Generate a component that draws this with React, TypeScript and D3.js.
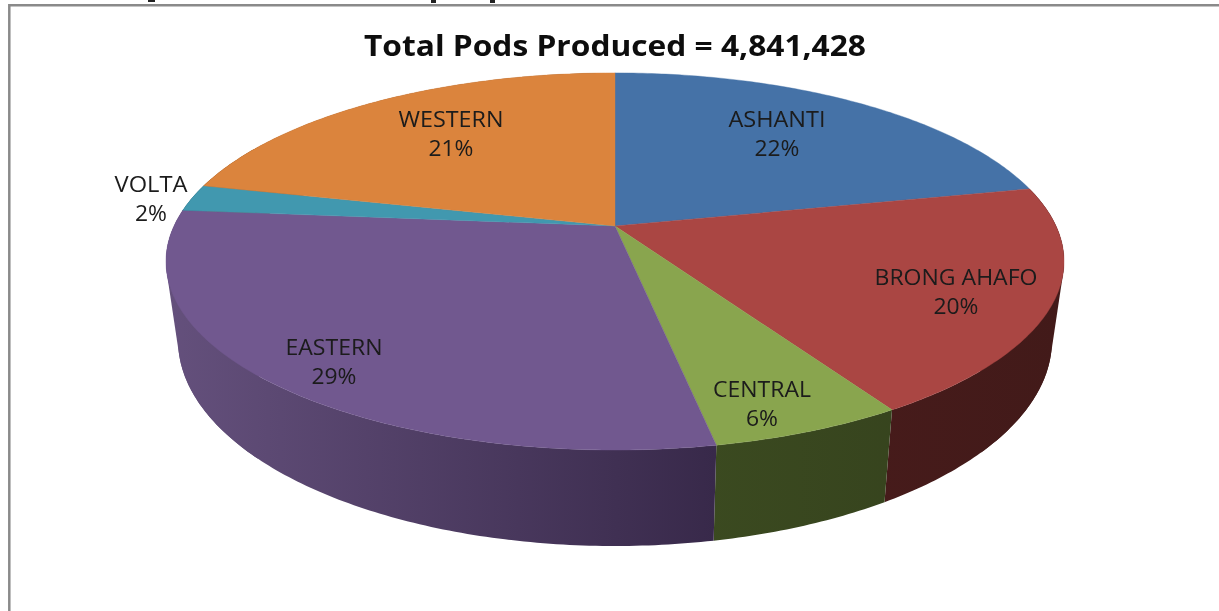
import React from "react";
import * as d3 from "d3";

const regions = ["ASHANTI", "BRONG AHAFO", "CENTRAL", "EASTERN", "VOLTA", "WESTERN"];
const shares = [21.6, 19.55, 5.85, 29.4, 2.3, 21.3];
const percentLabels = ["22%", "20%", "6%", "29%", "2%", "21%"];
const topColors = ["#4572a7", "#aa4643", "#89a54e", "#71588f", "#4198af", "#db843d"];
const sideLeft = ["#2a4464", "#4a1c1c", "#3b4a20", "#64507c", "#276070", "#8a5020"];
const sideRight = ["#223a55", "#421a19", "#333f1c", "#38294a", "#276070", "#8a5020"];
const labelX = [777, 956, 762, 334, 151, 451];
const labelY = [119, 277, 389, 347, 184, 119];
const labelWidths = [97, 163, 98, 97, 73, 105];
const percentWidths = [45, 45, 32, 45, 32, 45];
const titleText = "Total Pods Produced = 4,841,428";

const W = 1219, H = 611;
const cx = 615, cy = 226;
const a = 441, k = 181.9, p = 0.188;
// outline of the top face and of the lower rim
const topEllipse = { x: 615, y: 261, rx: 449, ry: 189 };
const rimEllipse = { x: 615, y: 340, rx: 437, ry: 206 };

function projectTop(theta: number): [number, number] {
  const X = Math.sin(theta), Y = Math.cos(theta);
  const w = 1 + p * Y;
  return [cx + (a * X) / w, cy - (k * Y) / w];
}
function projectBottom(theta: number): [number, number] {
  const [x, y] = projectTop(theta);
  const u = (x - topEllipse.x) / topEllipse.rx;
  const v = (y - topEllipse.y) / topEllipse.ry;
  const phi = Math.atan2(u, v);
  return [rimEllipse.x + rimEllipse.rx * Math.sin(phi), rimEllipse.y + rimEllipse.ry * Math.cos(phi)];
}

const arcs = d3.pie<number>().sort(null).startAngle(0).endAngle(2 * Math.PI)(shares);
const line = d3.line();

function samples(start: number, end: number) {
  const n = Math.max(2, Math.ceil((end - start) * 80));
  return d3.range(n + 1).map((i) => start + ((end - start) * i) / n);
}

export default function App() {
  return (
    <svg width={W} height={H} viewBox={`0 0 ${W} ${H}`} style={{ position: "fixed", left: 0, top: 0, background: "#fff" }}>
      <defs>
        {arcs.map((_, i) => (
          <linearGradient key={i} id={`side${i}`} gradientUnits="userSpaceOnUse" x1={i === 3 ? 170 : 700} x2={i === 3 ? 715 : 1065} y1={0} y2={0}>
            <stop offset="0" stopColor={sideLeft[i]} />
            <stop offset="1" stopColor={sideRight[i]} />
          </linearGradient>
        ))}
        <filter id="soft" x="-5%" y="-20%" width="110%" height="140%">
          <feGaussianBlur stdDeviation="0.35" />
        </filter>
      </defs>
      <path d="M9.3 611V5.3H1219" fill="none" stroke="#8a8a8a" strokeWidth={2.5} />
      <g fill="#222">
        <rect x={148} y={0} width={7} height={2} />
        <rect x={431} y={0} width={5} height={3} />
        <rect x={490} y={0} width={5} height={3} />
      </g>
      {arcs.map((d, i) => {
        if (d.endAngle < Math.PI / 2 || d.startAngle > 1.6 * Math.PI) return null;
        const ts = samples(d.startAngle, d.endAngle);
        const pts = [...ts.map(projectTop), ...ts.slice().reverse().map(projectBottom)] as [number, number][];
        // straight silhouette between the two outlines at the far left and right
        const edgePts = pts.filter(([x]) => x < 260 || x > 980);
        const hull = edgePts.length > 2 ? d3.polygonHull(edgePts) : null;
        return (
          <g key={i} fill={`url(#side${i})`}>
            <path d={line(pts) + "Z"} />
            {hull && <path d={line(hull) + "Z"} />}
          </g>
        );
      })}
      {arcs.map((d, i) => {
        const ts = samples(d.startAngle, d.endAngle);
        const pts: [number, number][] = [[cx, cy], ...ts.map(projectTop)];
        return <path key={i} d={line(pts) + "Z"} fill={topColors[i]} stroke={topColors[i]} strokeWidth={0.4} />;
      })}
      <g filter="url(#soft)" fontFamily="'Open Sans', 'Noto Sans', sans-serif" fontSize={21} fill="#1a1a1a" textAnchor="middle">
        {regions.map((r, i) => (
          <g key={r}>
            <text x={labelX[i]} y={labelY[i] + 7.5} textLength={labelWidths[i]} lengthAdjust="spacingAndGlyphs">{r}</text>
            <text x={labelX[i]} y={labelY[i] + 36.5} textLength={percentWidths[i]} lengthAdjust="spacingAndGlyphs">{percentLabels[i]}</text>
          </g>
        ))}
      </g>
      <text filter="url(#soft)" x={615} y={56} textAnchor="middle" fontFamily="'Open Sans', 'Noto Sans', sans-serif" fontWeight={700} fontSize={29} fill="#0a0a0a" textLength={502} lengthAdjust="spacingAndGlyphs">
        {titleText}
      </text>
    </svg>
  );
}
